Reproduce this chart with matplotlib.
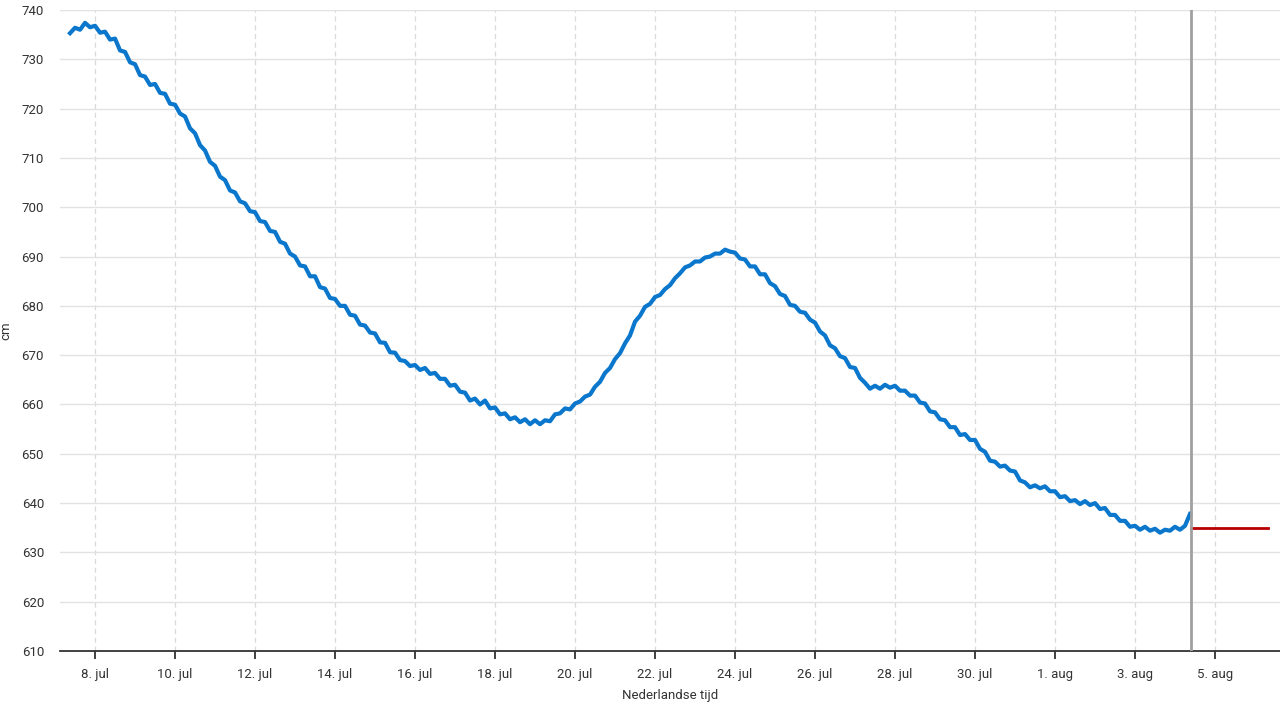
import datetime as dt
import matplotlib
matplotlib.use("Agg")
import matplotlib.pyplot as plt
import pandas as pd

plt.rcParams['font.family'] = ['Roboto', 'DejaVu Sans']

# measured water level (cm), one value every 3 hours from 7 jul 09:00
level = [
    735.3, 736.4, 736.0, 737.4, 736.5, 736.8, 735.4, 735.6, 734.0, 734.2,
    731.8, 731.5, 729.4, 729.0, 726.8, 726.5, 724.8, 725.0, 723.2, 723.0,
    721.0, 720.8, 719.0, 718.4, 716.0, 715.0, 712.6, 711.5, 709.2, 708.4,
    706.2, 705.5, 703.4, 703.0, 701.2, 700.8, 699.2, 699.0, 697.2, 697.0,
    695.2, 695.0, 693.0, 692.6, 690.6, 690.0, 688.2, 688.0, 686.0, 686.0,
    683.8, 683.5, 681.6, 681.4, 680.0, 680.0, 678.2, 678.0, 676.2, 676.0,
    674.6, 674.4, 672.6, 672.5, 670.6, 670.5, 669.0, 668.8, 667.8, 668.0,
    667.0, 667.4, 666.2, 666.4, 665.2, 665.2, 663.8, 664.0, 662.6, 662.4,
    660.8, 661.2, 660.0, 660.8, 659.2, 659.4, 658.0, 658.2, 657.0, 657.4,
    656.4, 657.0, 656.0, 656.8, 656.0, 656.8, 656.6, 658.0, 658.2, 659.2,
    659.0, 660.2, 660.6, 661.6, 662.0, 663.6, 664.6, 666.4, 667.4, 669.2,
    670.4, 672.4, 674.0, 676.8, 678.0, 679.8, 680.4, 681.8, 682.2, 683.4,
    684.2, 685.6, 686.6, 687.8, 688.2, 689.0, 689.0, 689.8, 690.0, 690.6,
    690.6, 691.4, 691.0, 690.8, 689.6, 689.4, 688.0, 688.0, 686.4, 686.4,
    684.6, 684.0, 682.4, 682.0, 680.2, 680.0, 678.8, 678.6, 677.2, 676.6,
    674.8, 674.0, 672.0, 671.4, 669.8, 669.4, 667.6, 667.4, 665.4, 664.4,
    663.2, 663.8, 663.2, 664.0, 663.4, 663.8, 662.8, 662.8, 661.8, 661.8,
    660.4, 660.2, 658.6, 658.4, 657.0, 656.8, 655.4, 655.4, 653.8, 654.0,
    652.8, 652.8, 651.0, 650.4, 648.6, 648.4, 647.4, 647.6, 646.6, 646.4,
    644.6, 644.2, 643.2, 643.6, 643.0, 643.4, 642.4, 642.4, 641.2, 641.4,
    640.4, 640.6, 639.8, 640.4, 639.6, 640.0, 638.8, 639.0, 637.6, 637.6,
    636.4, 636.4, 635.2, 635.4, 634.6, 635.2, 634.4, 634.8, 634.0, 634.6,
    634.4, 635.2, 634.6, 635.4, 637.8,
]
times = pd.date_range('2023-07-07 09:00', periods=len(level), freq='3h')

# expected level after "now"
forecast_times = [dt.datetime(2023, 8, 4, 9, 30), dt.datetime(2023, 8, 6, 7, 50)]
forecast_level = [635, 635]
now = dt.datetime(2023, 8, 4, 9, 20)

tick_dates = pd.date_range('2023-07-08', '2023-08-05', freq='2D')
tick_labels = ['8. jul', '10. jul', '12. jul', '14. jul', '16. jul', '18. jul',
               '20. jul', '22. jul', '24. jul', '26. jul', '28. jul', '30. jul',
               '1. aug', '3. aug', '5. aug']

fig = plt.figure(figsize=(12.8, 7.2), dpi=100)
ax = fig.add_axes([0.0469, 0.0958, 0.9531, 0.8903])

ax.plot(times, level, color='#0a77cc', lw=3, zorder=3)
ax.plot(forecast_times, forecast_level, color='#b80000', lw=2, zorder=3)
ax.axvline(now, color='#a0a0a0', lw=2, zorder=4)

ax.set_ylim(610, 740)
ax.set_yticks(range(610, 741, 10))
ax.set_xlim(dt.datetime(2023, 7, 7, 3, 0), dt.datetime(2023, 8, 6, 15, 0))
ax.set_xticks(tick_dates)
ax.set_xticklabels(tick_labels)

ax.grid(axis='y', color='#e2e2e2', lw=1, zorder=0)
ax.grid(axis='x', color='#d9d9d9', lw=0.9, ls=(0, (4, 3)), zorder=0)
for s in ['top', 'right', 'left']:
    ax.spines[s].set_visible(False)
ax.spines['bottom'].set_color('#333333')
ax.spines['bottom'].set_linewidth(1.3)
ax.tick_params(axis='y', length=0, pad=11.5, labelsize=9.5, labelcolor='#333333')
ax.tick_params(axis='x', length=6, width=1.3, color='#333333', pad=6,
               labelsize=9.5, labelcolor='#333333')

ax.set_ylabel('cm', fontsize=9.5, color='#333333')
ax.yaxis.set_label_coords(-0.039, 0.5)
ax.set_xlabel('Nederlandse tijd', fontsize=9.5, color='#333333', labelpad=6)

fig.savefig('out.png', dpi=100)
